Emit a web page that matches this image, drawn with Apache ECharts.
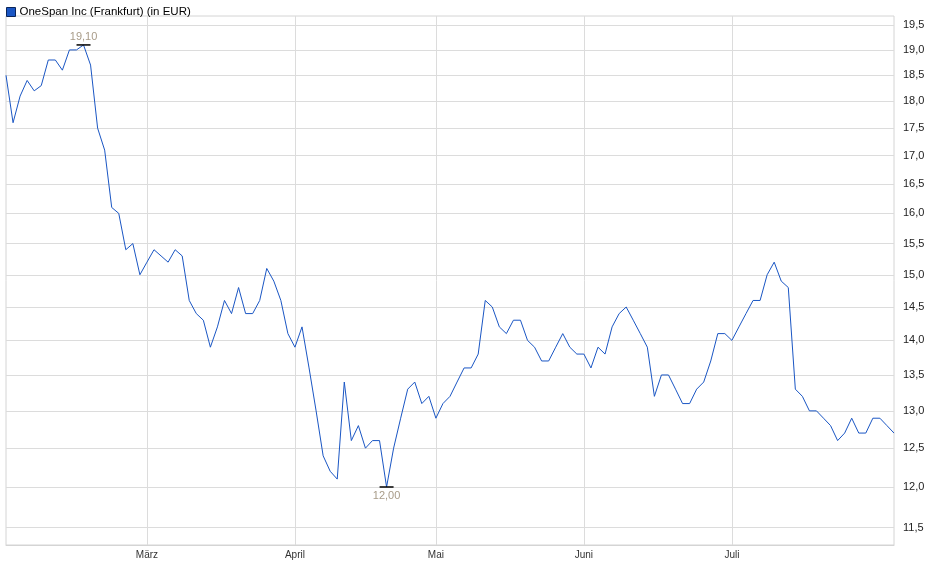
<!DOCTYPE html>
<html>
<head>
<meta charset="utf-8">
<script src="https://cdn.jsdelivr.net/npm/echarts@6/dist/echarts.min.js"></script>
<style>html,body{margin:0;padding:0;background:#fff}#c{width:940px;height:579px}</style>
</head>
<body>
<div id="c"></div>
<script>
// Trading days (Frankfurt) from 3 Feb 2025 to 1 Aug 2025
const startDate = '2025-02-03';
const endDate = '2025-08-01';
const holidays = ['2025-04-18', '2025-04-21', '2025-05-01'];
const monthNames = ['Jan', 'Feb', 'März', 'April', 'Mai', 'Juni', 'Juli', 'Aug'];
const labelledMonths = ['März', 'April', 'Mai', 'Juni', 'Juli'];

const prices = [
  18.5, 17.6, 18.1, 18.4, 18.2, 18.3, 18.8, 18.8, 18.6, 19.0,
  19.0, 19.1, 18.7, 17.5, 17.1, 16.1, 16.0, 15.4, 15.5, 15.0,
  15.2, 15.4, 15.3, 15.2, 15.4, 15.3, 14.6, 14.4, 14.3, 13.9,
  14.2, 14.6, 14.4, 14.8, 14.4, 14.4, 14.6, 15.1, 14.9, 14.6,
  14.1, 13.9, 14.2, 13.6, 13.0, 12.4, 12.2, 12.1, 13.4, 12.6,
  12.8, 12.5, 12.6, 12.6, 12.0, 12.5, 12.9, 13.3, 13.4, 13.1,
  13.2, 12.9, 13.1, 13.2, 13.4, 13.6, 13.6, 13.8, 14.6, 14.5,
  14.2, 14.1, 14.3, 14.3, 14.0, 13.9, 13.7, 13.7, 13.9, 14.1,
  13.9, 13.8, 13.8, 13.6, 13.9, 13.8, 14.2, 14.4, 14.5, 14.3,
  14.1, 13.9, 13.2, 13.5, 13.5, 13.3, 13.1, 13.1, 13.3, 13.4,
  13.7, 14.1, 14.1, 14.0, 14.2, 14.4, 14.6, 14.6, 15.0, 15.2,
  14.9, 14.8, 13.3, 13.2, 13.0, 13.0, 12.9, 12.8, 12.6, 12.7,
  12.9, 12.7, 12.7, 12.9, 12.9, 12.8, 12.7
];

const yTicks = [11.5, 12.0, 12.5, 13.0, 13.5, 14.0, 14.5, 15.0, 15.5, 16.0, 16.5, 17.0, 17.5, 18.0, 18.5, 19.0, 19.5];

// build category dates
const dates = [];
(function () {
  const d = new Date(startDate + 'T12:00:00Z');
  const end = new Date(endDate + 'T12:00:00Z');
  while (d <= end) {
    const wd = d.getUTCDay();
    const s = d.toISOString().slice(0, 10);
    if (wd !== 0 && wd !== 6 && holidays.indexOf(s) < 0) dates.push(s);
    d.setUTCDate(d.getUTCDate() + 1);
  }
})();

function monthStart(idx) {
  if (idx === 0) return false;
  return dates[idx].slice(5, 7) !== dates[idx - 1].slice(5, 7);
}
function monthLabel(idx) {
  const m = parseInt(dates[idx].slice(5, 7), 10);
  return monthNames[m - 1];
}
function isLabelled(idx) {
  return monthStart(idx) && labelledMonths.indexOf(monthLabel(idx)) >= 0;
}

const fmt = v => v.toFixed(1).replace('.', ',');
const fmt2 = v => v.toFixed(2).replace('.', ',');

const chart = echarts.init(document.getElementById('c'), null, {renderer: 'canvas'});
chart.setOption({
  animation: false,
  backgroundColor: '#fff',
  textStyle: {fontFamily: 'Liberation Sans, Arial, sans-serif'},
  legend: {
    left: 1, top: 1,
    itemWidth: 9, itemHeight: 9, itemGap: 5,
    icon: 'rect',
    textStyle: {fontSize: 11.5, color: '#000', fontFamily: 'Liberation Sans, Arial, sans-serif', padding: [0, 0, 0, -1]},
    data: [{name: 'OneSpan Inc (Frankfurt) (in EUR)', itemStyle: {color: '#1a56c4', borderColor: '#0b2559', borderWidth: 1}}]
  },
  grid: {
    left: 6, right: 46, top: 16, bottom: 34,
    show: true, borderColor: '#d4d4d4', borderWidth: 1
  },
  xAxis: {
    type: 'category',
    data: dates,
    boundaryGap: false,
    axisLine: {show: true, lineStyle: {color: '#d4d4d4'}},
    axisTick: {show: false},
    axisLabel: {
      interval: (i) => isLabelled(i),
      formatter: (v, i) => monthLabel(i),
      color: '#333', fontSize: 10, margin: 5,
      fontFamily: 'Liberation Sans, Arial, sans-serif'
    },
    splitLine: {show: true, interval: (i) => isLabelled(i), lineStyle: {color: '#dcdcdc', width: 1}}
  },
  yAxis: {
    type: 'log',
    logBase: 10,
    position: 'right',
    min: 11.29, max: 19.69,
    axisLine: {show: false},
    axisTick: {show: false, customValues: yTicks},
    axisLabel: {customValues: yTicks, formatter: fmt, color: '#222', fontSize: 11, margin: 9,
      fontFamily: 'Liberation Sans, Arial, sans-serif'},
    splitLine: {show: true, lineStyle: {color: '#dcdcdc', width: 1}}
  },
  series: [{
    name: 'OneSpan Inc (Frankfurt) (in EUR)',
    type: 'line',
    data: prices,
    symbol: 'none',
    lineStyle: {color: '#1a56c4', width: 1},
    itemStyle: {color: '#1a56c4'},
    markPoint: {
      symbol: 'rect',
      symbolSize: [14, 1.5],
      itemStyle: {color: '#000'},
      data: [
        {type: 'max', label: {position: 'top', distance: 2}},
        {type: 'min', label: {position: 'bottom', distance: 3}}
      ],
      label: {show: true, formatter: p => fmt2(p.value), color: '#a89b88', fontSize: 11,
        fontFamily: 'Liberation Sans, Arial, sans-serif'}
    }
  }]
});
</script>
</body>
</html>
